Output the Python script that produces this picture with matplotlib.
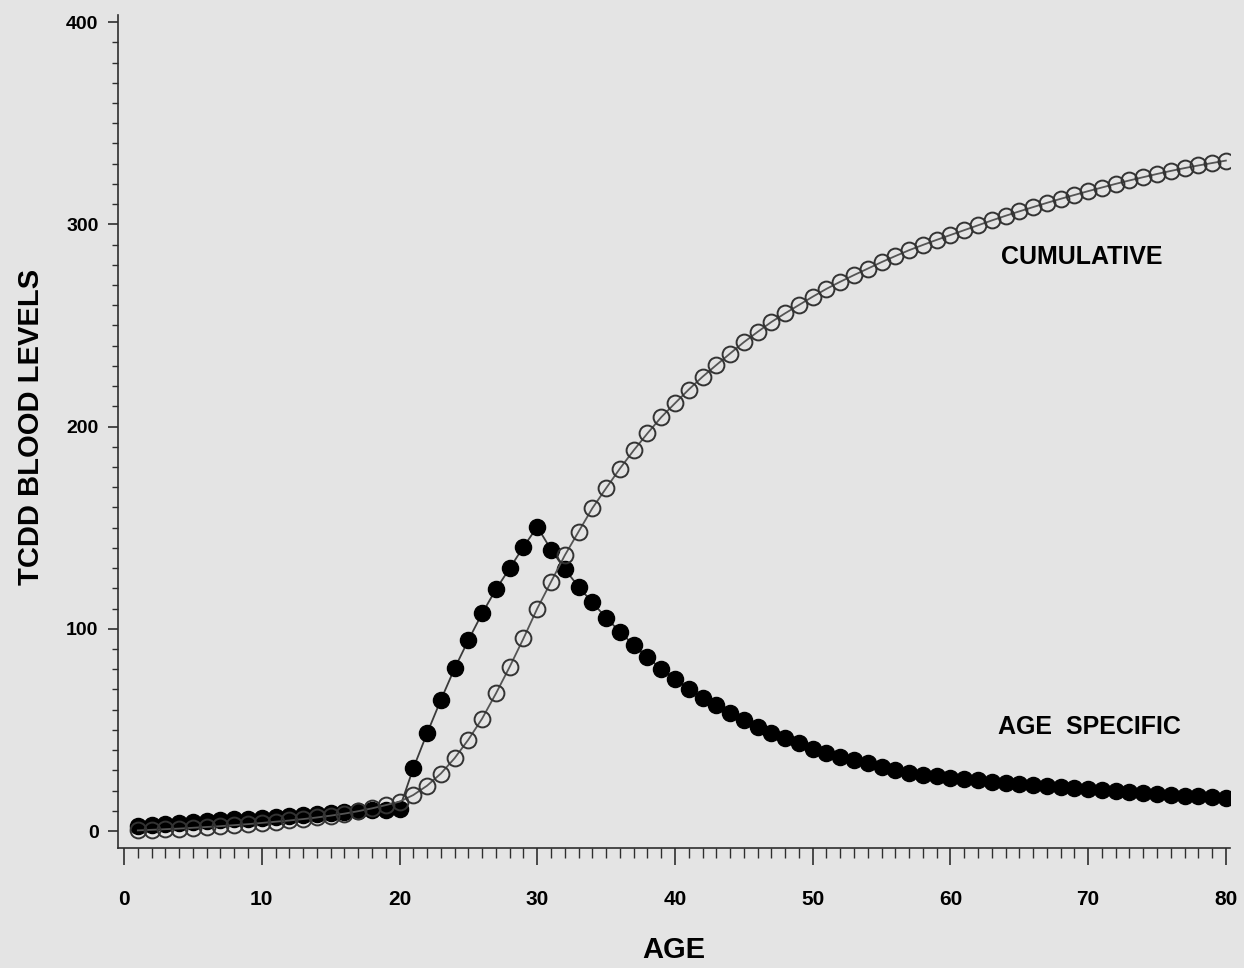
import matplotlib
matplotlib.use("Agg")
import matplotlib.pyplot as plt
from matplotlib.ticker import MultipleLocator

# ages 1..80
ages = list(range(1, 81))

# age-specific TCDD blood level
age_specific = [
    2.5, 3.0, 3.4, 3.9, 4.3, 4.8, 5.2, 5.7, 6.1, 6.6,
    7.0, 7.5, 7.9, 8.4, 8.8, 9.3, 9.7, 10.2, 10.6, 11.1,
    31.0, 48.3, 64.8, 80.4, 94.4, 107.6, 119.5, 129.9, 140.5, 150.4,
    139.2, 129.5, 120.8, 113.0, 105.5, 98.5, 92.0, 85.8, 80.3, 75.4,
    70.4, 66.0, 62.3, 58.5, 55.1, 51.5, 48.6, 46.0, 43.3, 40.8,
    38.7, 36.7, 35.0, 33.4, 31.7, 30.2, 28.9, 27.9, 27.1, 26.3,
    25.6, 25.0, 24.4, 23.9, 23.3, 22.8, 22.3, 21.8, 21.3, 20.8,
    20.3, 19.8, 19.4, 18.9, 18.4, 18.0, 17.5, 17.1, 16.6, 16.2,
]

# cumulative TCDD blood level
cumulative = [
    0.3, 0.6, 0.9, 1.2, 1.6, 2.0, 2.4, 2.9, 3.4, 4.0,
    4.6, 5.2, 5.9, 6.7, 7.6, 8.6, 9.8, 11.2, 12.8, 14.5,
    17.8, 22.4, 28.4, 36.0, 45.2, 55.6, 68.0, 81.2, 95.2, 110.0,
    123.2, 136.3, 148.0, 159.6, 169.5, 179.2, 188.2, 196.6, 204.6, 211.5,
    218.3, 224.6, 230.4, 236.1, 241.7, 246.8, 251.7, 256.0, 260.1, 264.2,
    268.1, 271.6, 274.9, 278.1, 281.3, 284.3, 287.2, 289.8, 292.3, 294.7,
    297.1, 299.5, 301.9, 304.2, 306.4, 308.5, 310.6, 312.6, 314.5, 316.4,
    318.2, 320.0, 321.7, 323.3, 324.9, 326.4, 327.8, 329.1, 330.3, 331.5,
]

x_ticks = [0, 10, 20, 30, 40, 50, 60, 70, 80]
y_ticks = [0, 100, 200, 300, 400]

BG = "#e4e4e4"
INK = "#2e2e2e"
FONT = ["Liberation Sans", "DejaVu Sans"]

fig = plt.figure(figsize=(12.44, 9.68), dpi=100, facecolor=BG)
ax = fig.add_axes([118 / 1244, 120 / 968, (1230 - 118) / 1244, (848 - 15) / 968])
ax.set_facecolor(BG)

ax.plot(ages, age_specific, "-", color="#3a3a3a", lw=1.3,
        marker="o", ms=11.6, mfc="black", mec="black", zorder=3)
ax.plot(ages, cumulative, "-", color="#555555", lw=1.3,
        marker="o", ms=11.4, mfc="none", mec="#333333", mew=1.4, zorder=4)

ax.set_xlim(-0.44, 80.3)
ax.set_ylim(-8.4, 403.5)

for side in ("top", "right"):
    ax.spines[side].set_visible(False)
for side in ("left", "bottom"):
    ax.spines[side].set_color(INK)
    ax.spines[side].set_linewidth(1.2)

ax.set_xticks(x_ticks)
ax.set_yticks(y_ticks)
ax.xaxis.set_minor_locator(MultipleLocator(1))
ax.yaxis.set_minor_locator(MultipleLocator(10))
ax.tick_params(axis="x", which="major", direction="out", length=12, width=1.2,
               pad=18, color=INK)
ax.tick_params(axis="x", which="minor", direction="out", length=7, width=1.0,
               color=INK)
ax.tick_params(axis="y", which="major", direction="out", length=7, width=1.2,
               pad=7, color=INK)
ax.tick_params(axis="y", which="minor", direction="out", length=4, width=1.0,
               color=INK)

for lab in ax.get_xticklabels():
    lab.set_family(FONT)
    lab.set_fontsize(15)
    lab.set_fontweight("bold")
for lab in ax.get_yticklabels():
    lab.set_family(FONT)
    lab.set_fontsize(14)
    lab.set_fontweight("bold")

ax.set_xlabel("AGE", family=FONT, fontsize=21, fontweight="bold")
ax.set_ylabel("TCDD BLOOD LEVELS", family=FONT, fontsize=21, fontweight="bold")
ax.xaxis.set_label_coords(0.5, -0.106)
ax.yaxis.set_label_coords(-0.066, 0.505)

ax.text(69.5, 283.8, "CUMULATIVE", family=FONT, fontsize=18, fontweight="bold",
        ha="center", va="center")
ax.text(70.1, 51.4, "AGE  SPECIFIC", family=FONT, fontsize=18,
        fontweight="bold", ha="center", va="center")

fig.savefig("out.png", dpi=100, facecolor=BG)
